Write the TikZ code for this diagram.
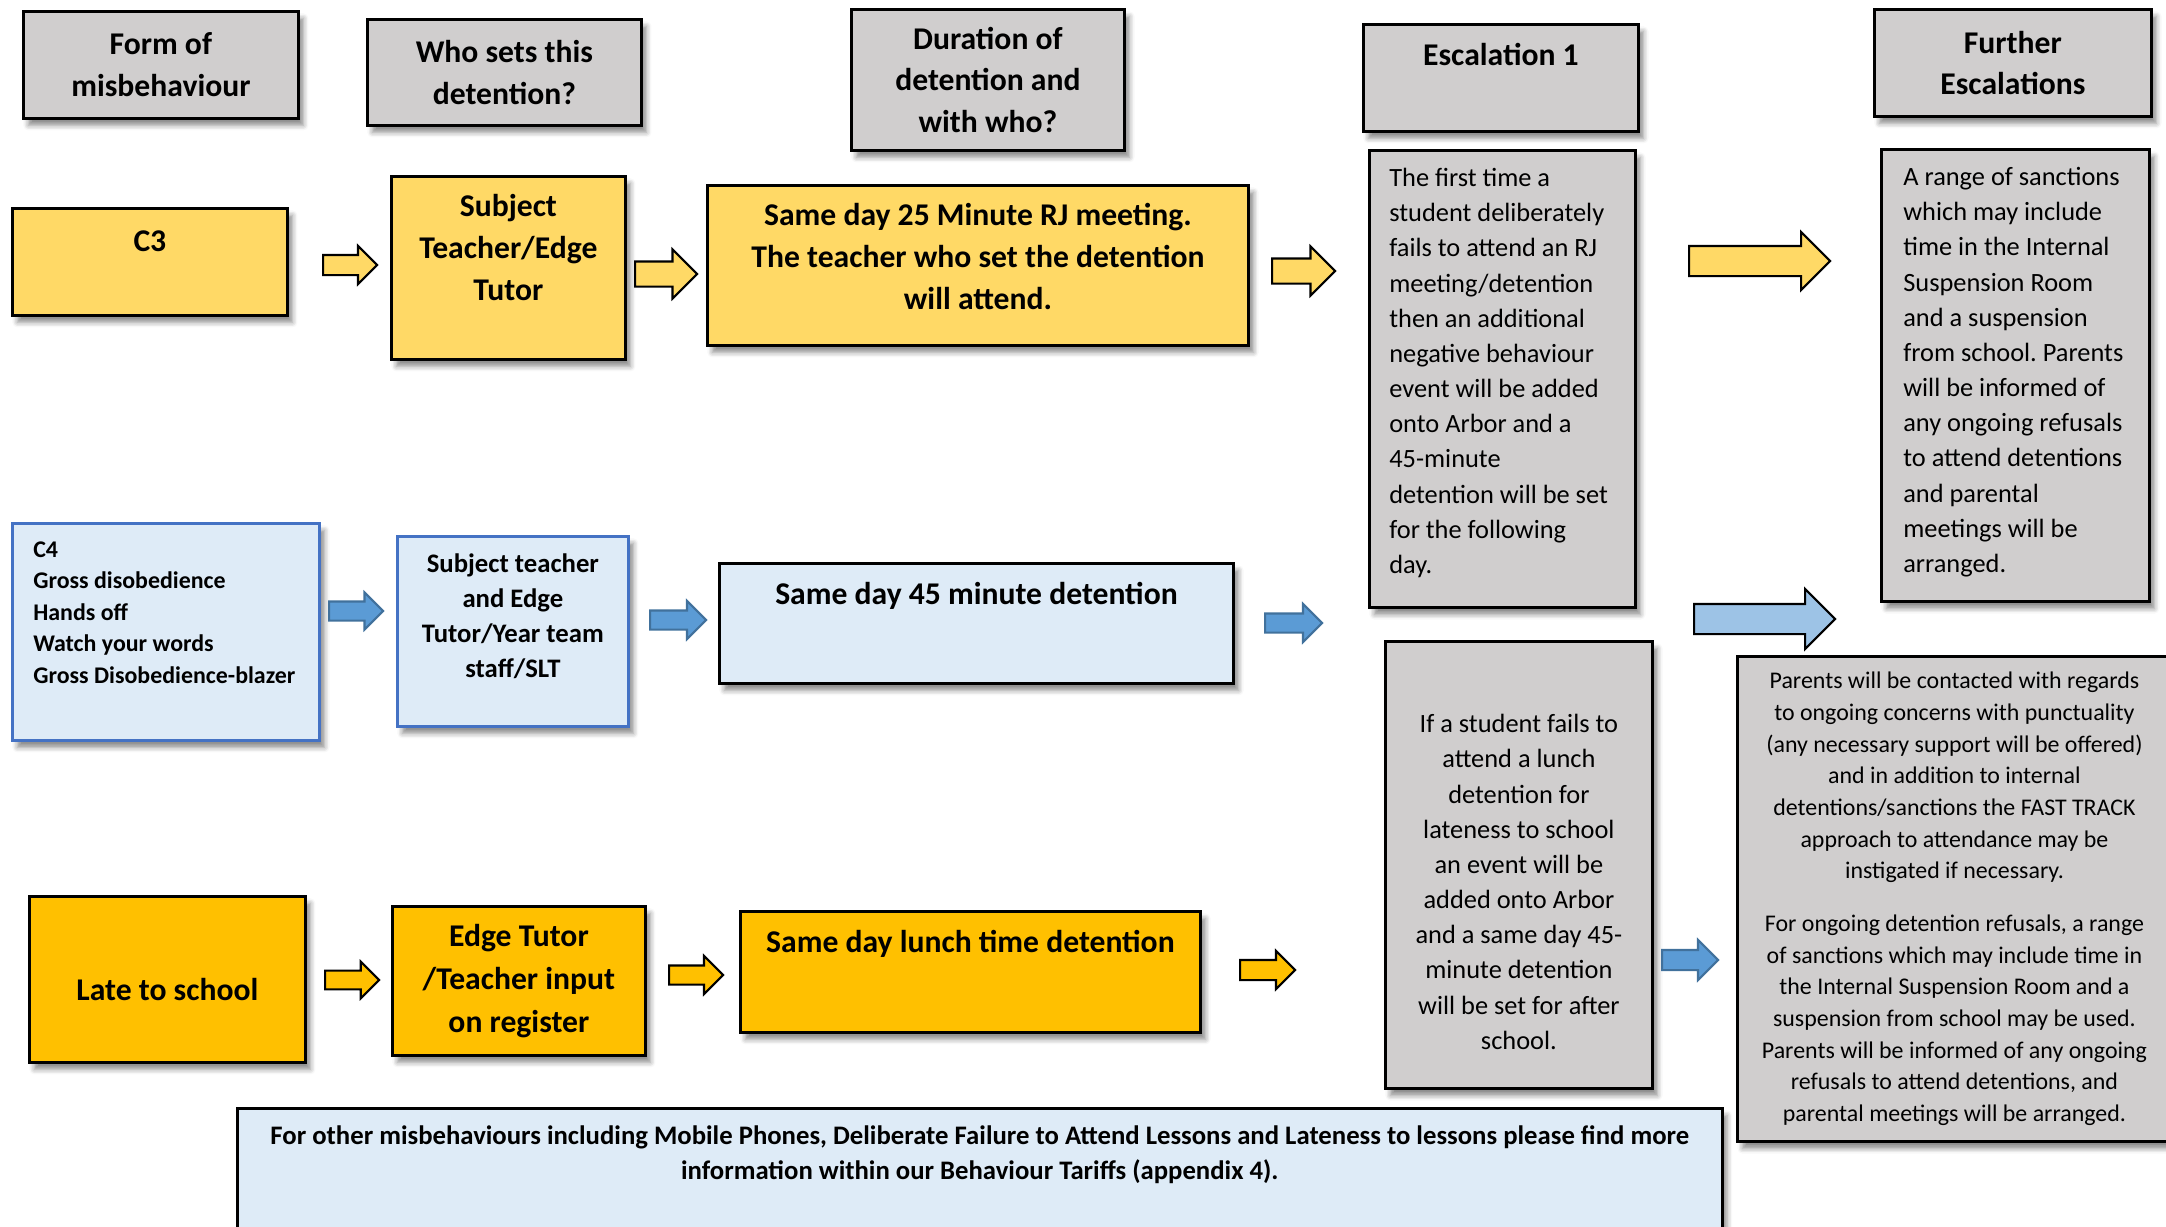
\documentclass[tikz,border=0pt]{standalone}
\usepackage{fontspec}
\setmainfont{Carlito}
\usepackage{xcolor}
\usetikzlibrary{shapes.arrows, shadows.blur}
\frenchspacing

\definecolor{GreyBox}{HTML}{D0CECE}
\definecolor{GoldLight}{HTML}{FFD966}
\definecolor{Gold}{HTML}{FFC000}
\definecolor{PaleBlue}{HTML}{DEEBF7}
\definecolor{EdgeBlue}{HTML}{4472C4}
\definecolor{ArrowBlue}{HTML}{5B9BD5}
\definecolor{ArrowBlueEdge}{HTML}{41719C}
\definecolor{SkyBlue}{HTML}{9DC3E6}

\newcommand{\cellc}[3]{\parbox[c][#2][c]{#1}{\centering #3}}
\newcommand{\cellt}[4]{\parbox[c][#2][t]{#1}{\vspace*{#3}\centering #4}}
\newcommand{\celll}[5]{\parbox[c][#2][t]{#1}{\vspace*{#3}\raggedright\leftskip=#4 #5}}

\tikzset{
    cell/.style={draw, line width=0.75pt, anchor=north west, inner sep=0pt,
        blur shadow={shadow xshift=0.5mm, shadow yshift=-0.7mm, shadow blur radius=0.5mm, shadow opacity=45}},
    headcell/.style={cell, fill=GreyBox, font=\bfseries\fontsize{9}{11.8}\selectfont},
    notecell/.style={cell, fill=GreyBox, font=\fontsize{7.5}{10}\selectfont},
    blockarrow/.style n args={3}{single arrow, draw, line width=0.6pt, anchor=west, inner xsep=0pt, inner ysep=#1,
        single arrow head extend=#2, single arrow head indent=0pt, minimum height=#3},
    yarrow/.style n args={3}{blockarrow={#1}{#2}{#3}, fill=GoldLight},
    barrow/.style n args={3}{blockarrow={#1}{#2}{#3}, fill=ArrowBlue, draw=ArrowBlueEdge},
    oarrow/.style n args={3}{blockarrow={#1}{#2}{#3}, fill=Gold}
}

\begin{document}
\begin{tikzpicture}[x=0.01cm, y=-0.01cm]
    \useasboundingbox (0, 0) rectangle (2166, 1226);

    \node[headcell] (formhd) at (22, 10) {\cellc{2.75cm}{1.07cm}{Form of\\ misbehaviour}};
    \node[headcell] (whohd) at (366, 18) {\cellc{2.74cm}{1.06cm}{Who sets this\\ detention?}};
    \node[headcell] (durhd) at (850, 8) {\cellc{2.73cm}{1.41cm}{Duration of\\ detention and\\ with who?}};
    \node[headcell] (eschd) at (1362, 23) {\cellt{2.75cm}{1.07cm}{0.19cm}{Escalation 1}};
    \node[headcell] (furthd) at (1873, 8) {\cellc{2.77cm}{1.07cm}{Further\\ Escalations}};

    \node[cell, fill=GoldLight, font=\bfseries\fontsize{9}{12}\selectfont] (c3) at (11, 207)
        {\cellt{2.75cm}{1.07cm}{0.22cm}{C3}};
    \node[cell, fill=GoldLight, font=\bfseries\fontsize{9}{12}\selectfont] (who1) at (390, 175)
        {\cellt{2.34cm}{1.83cm}{0.18cm}{Subject\\ Teacher/Edge\\ Tutor}};
    \node[cell, fill=GoldLight, font=\bfseries\fontsize{9}{12}\selectfont] (dur1) at (706, 184)
        {\cellt{5.41cm}{1.60cm}{0.18cm}{Same day 25 Minute RJ meeting.\\ The teacher who set the detention\\ will attend.}};
    \node[notecell] (esctxt) at (1368, 149) {\celll{2.66cm}{4.57cm}{0.18cm}{0.2cm}{The first time a\\ student deliberately\\ fails to attend an RJ\\ meeting/detention\\ then an additional\\ negative behaviour\\ event will be added\\ onto Arbor and a\\ 45-minute\\ detention will be set\\ for the following\\ day.}};
    \node[notecell] (furtxt) at (1880, 148) {\celll{2.68cm}{4.52cm}{0.18cm}{0.22cm}{A range of sanctions\\ which may include\\ time in the Internal\\ Suspension Room\\ and a suspension\\ from school. Parents\\ will be informed of\\ any ongoing refusals\\ to attend detentions\\ and parental\\ meetings will be\\ arranged.}};

    \node[cell, fill=PaleBlue, draw=EdgeBlue, font=\bfseries\fontsize{6.8}{9}\selectfont] (c4) at (11, 522)
        {\celll{3.07cm}{2.17cm}{0.18cm}{0.21cm}{C4\\ Gross disobedience\\ Hands off\\ Watch your words\\ Gross Disobedience-blazer}};
    \node[cell, fill=PaleBlue, draw=EdgeBlue, font=\bfseries\fontsize{7.6}{10}\selectfont] (who2) at (396, 535)
        {\cellt{2.31cm}{1.90cm}{0.17cm}{Subject teacher\\ and Edge\\ Tutor/Year team\\ staff/SLT}};
    \node[cell, fill=PaleBlue, font=\bfseries\fontsize{9}{12}\selectfont] (dur2) at (718, 562)
        {\cellt{5.14cm}{1.20cm}{0.19cm}{Same day 45 minute detention}};
    \node[notecell, font=\fontsize{7.5}{10}\selectfont] (latetxt) at (1384, 640)
        {\cellt{2.67cm}{4.47cm}{0.73cm}{If a student fails to\\ attend a lunch\\ detention for\\ lateness to school\\ an event will be\\ added onto Arbor\\ and a same day 45-\\ minute detention\\ will be set for after\\ school.}};
    \node[cell, fill=GreyBox, font=\fontsize{6.8}{9}\selectfont] (parents) at (1736, 655)
        {\cellt{4.34cm}{4.85cm}{0.16cm}{Parents will be contacted with regards\\ to ongoing concerns with punctuality\\ (any necessary support will be offered)\\ and in addition to internal\\ detentions/sanctions the FAST TRACK\\ approach to attendance may be\\ instigated if necessary.\\[6pt] For ongoing detention refusals, a range\\ of sanctions which may include time in\\ the Internal Suspension Room and a\\ suspension from school may be used.\\ Parents will be informed of any ongoing\\ refusals to attend detentions, and\\ parental meetings will be arranged.}};

    \node[cell, fill=Gold, font=\bfseries\fontsize{9}{12}\selectfont] (late) at (28, 895)
        {\cellt{2.76cm}{1.66cm}{0.82cm}{Late to school}};
    \node[cell, fill=Gold, font=\bfseries\fontsize{9}{12.3}\selectfont] (who3) at (391, 905)
        {\cellc{2.53cm}{1.49cm}{Edge Tutor\\ /Teacher input\\ on register}};
    \node[cell, fill=Gold, font=\bfseries\fontsize{9}{12}\selectfont] (dur3) at (739, 910)
        {\cellt{4.60cm}{1.21cm}{0.19cm}{Same day lunch time detention}};

    \node[cell, fill=PaleBlue, font=\bfseries\fontsize{7.6}{10}\selectfont] (other) at (236, 1107)
        {\cellt{14.84cm}{1.40cm}{0.17cm}{For other misbehaviours including Mobile Phones, Deliberate Failure to Attend Lessons and Lateness to lessons please find more\\ information within our Behaviour Tariffs (appendix 4).}};

    \node[yarrow={0.09cm}{0.09cm}{0.54cm}] (a11) at (322, 265) {};
    \node[yarrow={0.115cm}{0.12cm}{0.62cm}] (a12) at (634, 274) {};
    \node[yarrow={0.115cm}{0.12cm}{0.63cm}] (a13) at (1271, 271) {};
    \node[yarrow={0.14cm}{0.14cm}{1.41cm}] (a14) at (1688, 261) {};

    \node[barrow={0.085cm}{0.09cm}{0.54cm}] (a21) at (328, 611) {};
    \node[barrow={0.085cm}{0.095cm}{0.56cm}] (a22) at (649, 620) {};
    \node[barrow={0.085cm}{0.095cm}{0.57cm}] (a23) at (1264, 623) {};
    \node[blockarrow={0.14cm}{0.15cm}{1.41cm}, fill=SkyBlue] (a24) at (1693, 619) {};
    \node[barrow={0.09cm}{0.10cm}{0.56cm}] (a25) at (1661, 960) {};

    \node[oarrow={0.083cm}{0.09cm}{0.54cm}] (a31) at (324, 980) {};
    \node[oarrow={0.085cm}{0.095cm}{0.54cm}] (a32) at (668, 975) {};
    \node[oarrow={0.09cm}{0.09cm}{0.55cm}] (a33) at (1239, 970) {};
\end{tikzpicture}
\end{document}
